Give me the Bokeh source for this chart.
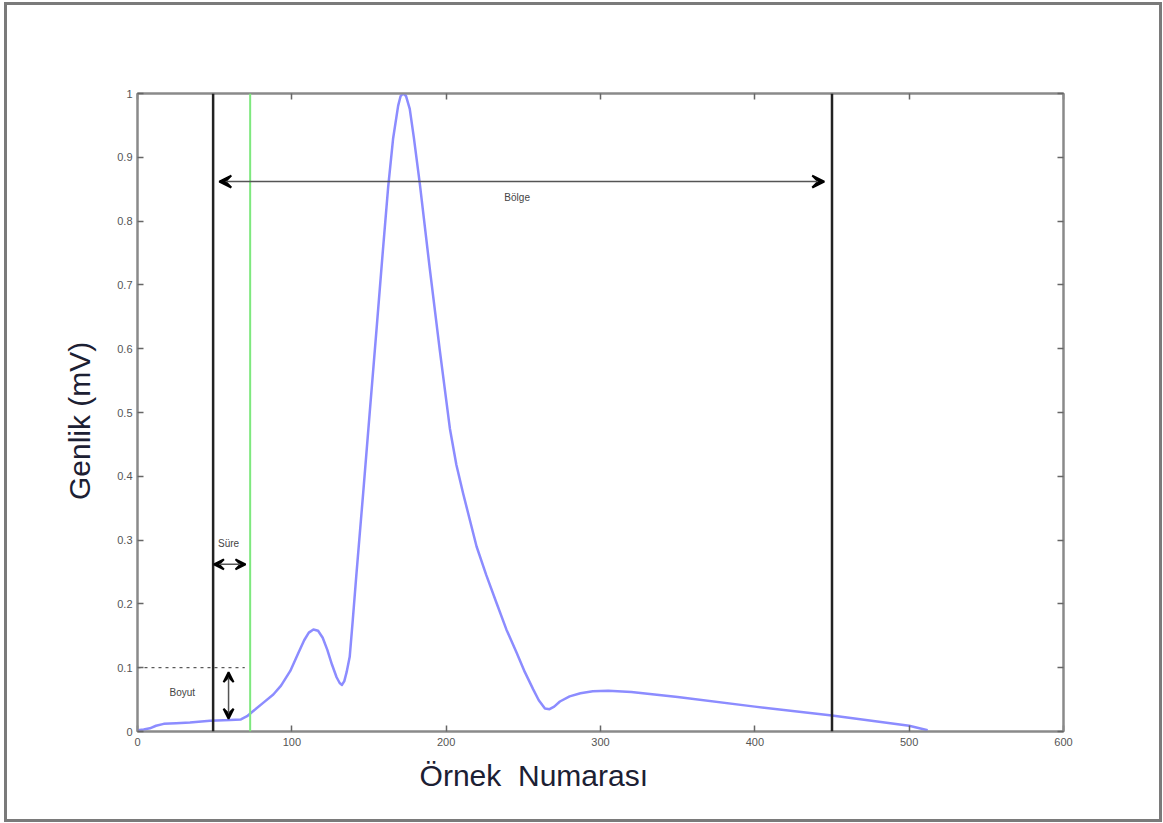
from bokeh.plotting import figure
from bokeh.embed import file_html
from bokeh.resources import INLINE
from bokeh.models import Range1d, LinearAxis, FixedTicker, Label, Arrow, VeeHead, Span

# ---- data ----
sample = [0, 4, 8, 12, 17, 25, 34, 47, 60, 67, 71, 75, 82, 88, 93, 99, 104, 108, 111,
          114, 117, 120, 123, 126, 129, 131, 132.5, 134, 135.5, 137.5, 139.5, 141.8,
          146.2, 150.5, 154.8, 159.1, 162.4, 165.6, 168.9, 170.5, 172.1, 174, 176.4,
          179, 182.9, 189.4, 195.9, 202.4, 206.6, 211, 219.7, 226, 232.7, 239, 245.6, 251,
          256.4, 260, 264, 267, 270, 273.7, 280, 287, 295, 305, 320, 350, 400, 450,
          500, 512]
amplitude = [0.002, 0.003, 0.005, 0.009, 0.012, 0.013, 0.014, 0.017, 0.018, 0.019, 0.024,
             0.032, 0.046, 0.058, 0.072, 0.095, 0.122, 0.143, 0.155,
             0.160, 0.158, 0.147, 0.128, 0.105, 0.085, 0.076, 0.073, 0.079, 0.093, 0.117,
             0.175, 0.245,
             0.373, 0.501, 0.628, 0.757, 0.853, 0.929, 0.981, 0.996, 1.0, 0.996, 0.976,
             0.932, 0.859, 0.725, 0.597, 0.475, 0.418, 0.373, 0.290, 0.245, 0.201, 0.160, 0.124,
             0.093, 0.066, 0.049, 0.036, 0.035, 0.039, 0.047, 0.055, 0.060, 0.063, 0.064,
             0.062, 0.054, 0.039, 0.025, 0.009, 0.002]

region_bounds = [49, 450]      # black vertical lines
duration_end = 73              # green line
threshold = 0.1                # dotted level
x_ticks = [0, 100, 200, 300, 400, 500, 600]
y_ticks = [0, 0.1, 0.2, 0.3, 0.4, 0.5, 0.6, 0.7, 0.8, 0.9, 1]
y_tick_labels = ["0", "0.1", "0.2", "0.3", "0.4", "0.5", "0.6", "0.7", "0.8", "0.9", "1"]

FONT = "Liberation Sans"
NB = "\u00a0"

p = figure(width=1158, height=820, output_backend="svg", toolbar_location=None,
           x_range=Range1d(0, 600), y_range=Range1d(0, 1),
           min_border_left=130, min_border_right=102, min_border_top=88, min_border_bottom=94,
           x_axis_location=None, y_axis_location=None)
p.styles = {"border": "3px solid #7a7a7a", "margin-left": "4px", "margin-top": "2px"}
p.xgrid.visible = False
p.ygrid.visible = False
p.outline_line_color = "#8a8a8a"
p.outline_line_width = 2
p.background_fill_color = "white"
p.border_fill_color = "white"

ylabels = {t: l for t, l in zip(y_ticks, y_tick_labels)}

def make_axis(show_labels, ticks, overrides=None):
    ax = LinearAxis(ticker=FixedTicker(ticks=ticks))
    ax.axis_line_color = "#8a8a8a"
    ax.axis_line_width = 2
    ax.major_tick_in = 6
    ax.major_tick_out = 0
    ax.major_tick_line_color = "#666666"
    ax.major_tick_line_width = 1.5
    ax.minor_tick_line_color = None
    ax.major_label_text_font = FONT
    ax.major_label_text_font_size = "11px"
    ax.major_label_text_color = "#555555" if show_labels else None
    ax.axis_label_text_font = FONT
    ax.axis_label_text_font_size = "30px"
    ax.axis_label_text_font_style = "normal"
    ax.axis_label_text_color = "#1c2033"
    if overrides:
        ax.major_label_overrides = overrides
    return ax

xb_axis = make_axis(True, x_ticks)
xb_axis.major_label_standoff = 6
xb_axis.axis_label = "Örnek" + NB + " Numarası" + NB * 16
xb_axis.axis_label_standoff = 10
yl_axis = make_axis(True, y_ticks, ylabels)
yl_axis.major_label_standoff = 5
yl_axis.axis_label = "Genlik (mV)" + NB * 2
yl_axis.axis_label_standoff = 18
p.add_layout(xb_axis, "below")
p.add_layout(yl_axis, "left")
p.add_layout(make_axis(False, x_ticks), "above")
p.add_layout(make_axis(False, y_ticks), "right")

# vertical markers
for xb in region_bounds:
    p.add_layout(Span(location=xb, dimension="height", line_color="#222222", line_width=2.5))
p.add_layout(Span(location=duration_end, dimension="height", line_color="#7ee87e", line_width=2))

# signal
p.line(sample, amplitude, line_color="#8c8cff", line_width=2.5, line_join="round")

# dotted threshold line
p.line([0, 69.5], [threshold, threshold], line_color="#333333", line_width=1, line_dash="3 4")

def head(s):
    return VeeHead(size=s, fill_color="black", fill_alpha=1.0, line_color="black", line_width=2)

# Bolge arrow
p.add_layout(Arrow(start=head(12), end=head(12), x_start=53, y_start=0.862, x_end=445, y_end=0.862,
                   line_color="#555555", line_width=1.5))
# Sure arrow
p.add_layout(Arrow(start=head(10), end=head(10), x_start=49.5, y_start=0.262, x_end=70, y_end=0.262,
                   line_color="#555555", line_width=1.5))
# Boyut arrow
p.add_layout(Arrow(start=head(10), end=head(10), x_start=59, y_start=0.093, x_end=59, y_end=0.020,
                   line_color="#555555", line_width=1.5))

small = dict(text_font=FONT, text_font_size="10px", text_color="#444444",
             text_align="center", text_baseline="middle")
p.add_layout(Label(x=246, y=0.837, text="Bölge", **small))
p.add_layout(Label(x=59, y=0.295, text="Süre", **small))
p.add_layout(Label(x=29, y=0.061, text="Boyut", **small))

open("out.html", "w").write(file_html(p, INLINE))
